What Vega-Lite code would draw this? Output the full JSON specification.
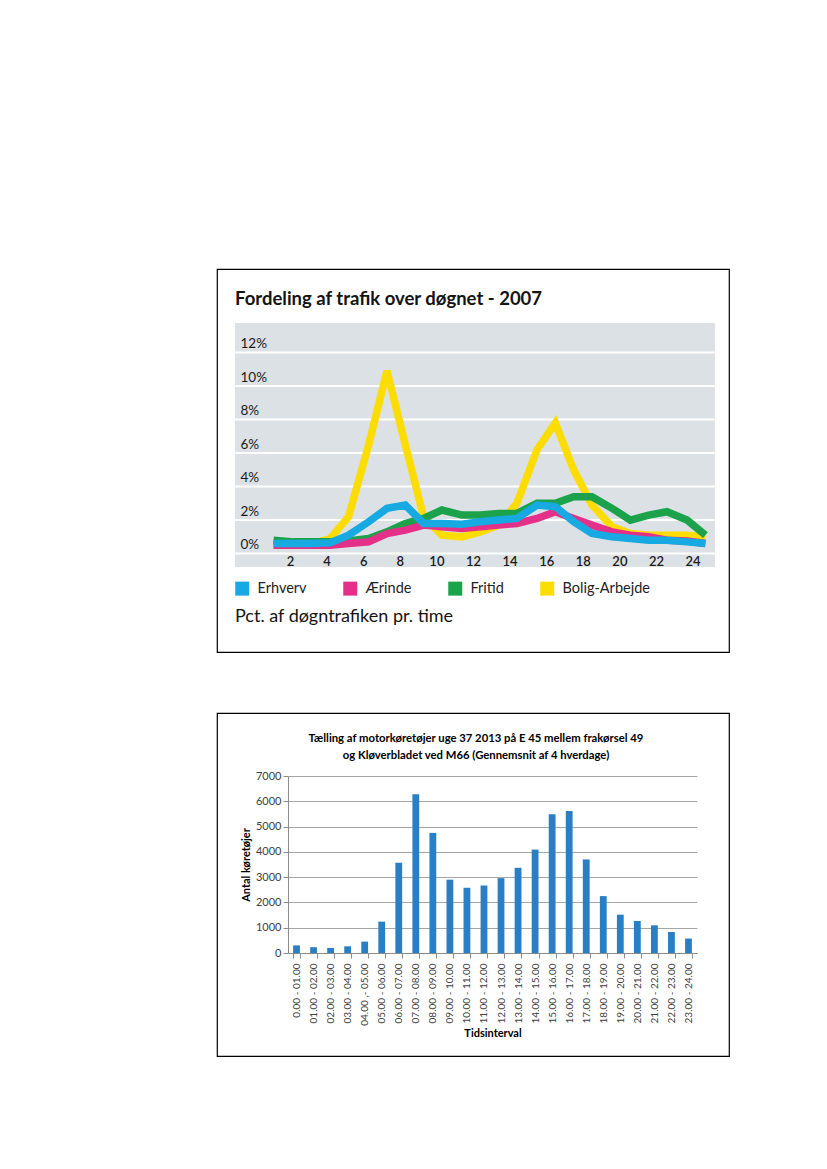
{
  "$schema": "https://vega.github.io/schema/vega-lite/v6.json",
  "padding": {"left": 211, "top": 268, "right": 0, "bottom": 0},
  "background": "white",
  "bounds": "flush",
  "spacing": 61,
  "config": {"font": "Lato", "view": {"stroke": null}},
  "vconcat": [
    {
      "width": 512,
      "height": 383,
      "view": {"stroke": "#000000", "strokeWidth": 1.2, "fill": "white"},
      "title": {"text": "Fordeling af trafik over døgnet - 2007", "anchor": "start", "frame": "group", "orient": "top", "offset": 0, "dx": 18, "dy": 54, "baseline": "alphabetic", "fontSize": 18.5, "fontWeight": "bold", "color": "#141414", "font": "Lato"},
      "layer": [
        {
          "data": {"values": [{"area": "plot"}]},
          "mark": {"type": "rect", "color": "#DCE1E5"},
          "encoding": {
            "x": {"datum": -1.005, "type": "quantitative", "scale": {"domain": [-1.99, 25.99], "nice": false, "zero": false},
                  "axis": {"values": [2,4,6,8,10,12,14,16,18,20,22,24], "zindex": 2, "title": null, "grid": false, "domain": false, "ticks": false, "tickSize": 0, "offset": -97, "labelPadding": 0, "labelBaseline": "top", "labelFlush": false, "labelFontSize": 13, "labelFontWeight": 600, "labelColor": "#1a1a1a", "labelFont": "Lato"}},
            "x2": {"datum": 25.22},
            "y": {"datum": -0.8, "type": "quantitative", "scale": {"domain": [-5.875, 16.99], "nice": false, "zero": false},
                  "axis": {"values": [0,2,4,6,8,10,12], "zindex": 2, "title": null, "grid": false, "domain": false, "ticks": false, "tickSize": 0, "labelAlign": "left", "labelPadding": -23, "labelBaseline": "alphabetic", "labelOffset": -5, "labelExpr": "datum.value + '%'", "labelFontSize": 13.5, "labelColor": "#1a1a1a", "labelFont": "Lato"}},
            "y2": {"datum": 13.77}
          }
        },
        {
          "data": {"values": [{"pct": 0}, {"pct": 2}, {"pct": 4}, {"pct": 6}, {"pct": 8}, {"pct": 10}, {"pct": 12}]},
          "mark": {"type": "rule", "color": "white", "strokeWidth": 2},
          "encoding": {
            "y": {"field": "pct", "type": "quantitative", "scale": {"domain": [-5.875, 16.99], "nice": false, "zero": false},
                  "axis": {"values": [0,2,4,6,8,10,12], "zindex": 2, "title": null, "grid": false, "domain": false, "ticks": false, "tickSize": 0, "labelAlign": "left", "labelPadding": -23, "labelBaseline": "alphabetic", "labelOffset": -5, "labelExpr": "datum.value + '%'", "labelFontSize": 13.5, "labelColor": "#1a1a1a", "labelFont": "Lato"}},
            "x": {"datum": -1.005, "type": "quantitative", "scale": {"domain": [-1.99, 25.99], "nice": false, "zero": false},
                  "axis": {"values": [2,4,6,8,10,12,14,16,18,20,22,24], "zindex": 2, "title": null, "grid": false, "domain": false, "ticks": false, "tickSize": 0, "offset": -97, "labelPadding": 0, "labelBaseline": "top", "labelFlush": false, "labelFontSize": 13, "labelFontWeight": 600, "labelColor": "#1a1a1a", "labelFont": "Lato"}},
            "x2": {"datum": 25.22}
          }
        },
        {
          "data": {"values": [
            {"h":1.1,"s":"Bolig-Arbejde","v":0.5},{"h":2.2,"s":"Bolig-Arbejde","v":0.5},{"h":3.2,"s":"Bolig-Arbejde","v":0.6},{"h":4.2,"s":"Bolig-Arbejde","v":0.9},{"h":5.2,"s":"Bolig-Arbejde","v":2.2},{"h":6.3,"s":"Bolig-Arbejde","v":6.5},{"h":7.3,"s":"Bolig-Arbejde","v":10.9},{"h":8.3,"s":"Bolig-Arbejde","v":6.5},{"h":9.3,"s":"Bolig-Arbejde","v":2.2},{"h":10.3,"s":"Bolig-Arbejde","v":1.1},{"h":11.4,"s":"Bolig-Arbejde","v":1.0},{"h":12.4,"s":"Bolig-Arbejde","v":1.3},{"h":13.4,"s":"Bolig-Arbejde","v":1.7},{"h":14.4,"s":"Bolig-Arbejde","v":3.0},{"h":15.5,"s":"Bolig-Arbejde","v":6.2},{"h":16.5,"s":"Bolig-Arbejde","v":7.8},{"h":17.5,"s":"Bolig-Arbejde","v":5.0},{"h":18.5,"s":"Bolig-Arbejde","v":2.9},{"h":19.6,"s":"Bolig-Arbejde","v":1.6},{"h":20.6,"s":"Bolig-Arbejde","v":1.2},{"h":21.6,"s":"Bolig-Arbejde","v":1.1},{"h":22.6,"s":"Bolig-Arbejde","v":1.1},{"h":23.7,"s":"Bolig-Arbejde","v":1.1},{"h":24.7,"s":"Bolig-Arbejde","v":1.0},
            {"h":1.1,"s":"Fritid","v":0.8},{"h":2.2,"s":"Fritid","v":0.7},{"h":3.2,"s":"Fritid","v":0.7},{"h":4.2,"s":"Fritid","v":0.7},{"h":5.2,"s":"Fritid","v":0.75},{"h":6.3,"s":"Fritid","v":0.9},{"h":7.3,"s":"Fritid","v":1.3},{"h":8.3,"s":"Fritid","v":1.8},{"h":9.3,"s":"Fritid","v":2.1},{"h":10.3,"s":"Fritid","v":2.6},{"h":11.4,"s":"Fritid","v":2.3},{"h":12.4,"s":"Fritid","v":2.3},{"h":13.4,"s":"Fritid","v":2.4},{"h":14.4,"s":"Fritid","v":2.4},{"h":15.5,"s":"Fritid","v":3.0},{"h":16.5,"s":"Fritid","v":3.0},{"h":17.5,"s":"Fritid","v":3.4},{"h":18.5,"s":"Fritid","v":3.4},{"h":19.6,"s":"Fritid","v":2.7},{"h":20.6,"s":"Fritid","v":2.0},{"h":21.6,"s":"Fritid","v":2.3},{"h":22.6,"s":"Fritid","v":2.5},{"h":23.7,"s":"Fritid","v":2.0},{"h":24.7,"s":"Fritid","v":1.1},
            {"h":1.1,"s":"Ærinde","v":0.5},{"h":2.2,"s":"Ærinde","v":0.5},{"h":3.2,"s":"Ærinde","v":0.5},{"h":4.2,"s":"Ærinde","v":0.5},{"h":5.2,"s":"Ærinde","v":0.6},{"h":6.3,"s":"Ærinde","v":0.7},{"h":7.3,"s":"Ærinde","v":1.2},{"h":8.3,"s":"Ærinde","v":1.4},{"h":9.3,"s":"Ærinde","v":1.7},{"h":10.3,"s":"Ærinde","v":1.6},{"h":11.4,"s":"Ærinde","v":1.5},{"h":12.4,"s":"Ærinde","v":1.6},{"h":13.4,"s":"Ærinde","v":1.7},{"h":14.4,"s":"Ærinde","v":1.8},{"h":15.5,"s":"Ærinde","v":2.1},{"h":16.5,"s":"Ærinde","v":2.5},{"h":17.5,"s":"Ærinde","v":2.1},{"h":18.5,"s":"Ærinde","v":1.7},{"h":19.6,"s":"Ærinde","v":1.3},{"h":20.6,"s":"Ærinde","v":1.1},{"h":21.6,"s":"Ærinde","v":1.0},{"h":22.6,"s":"Ærinde","v":0.8},{"h":23.7,"s":"Ærinde","v":0.75},{"h":24.7,"s":"Ærinde","v":0.6},
            {"h":1.1,"s":"Erhverv","v":0.6},{"h":2.2,"s":"Erhverv","v":0.6},{"h":3.2,"s":"Erhverv","v":0.6},{"h":4.2,"s":"Erhverv","v":0.65},{"h":5.2,"s":"Erhverv","v":1.1},{"h":6.3,"s":"Erhverv","v":1.9},{"h":7.3,"s":"Erhverv","v":2.7},{"h":8.3,"s":"Erhverv","v":2.9},{"h":9.3,"s":"Erhverv","v":1.8},{"h":10.3,"s":"Erhverv","v":1.8},{"h":11.4,"s":"Erhverv","v":1.75},{"h":12.4,"s":"Erhverv","v":1.9},{"h":13.4,"s":"Erhverv","v":2.0},{"h":14.4,"s":"Erhverv","v":2.1},{"h":15.5,"s":"Erhverv","v":2.9},{"h":16.5,"s":"Erhverv","v":2.8},{"h":17.5,"s":"Erhverv","v":1.9},{"h":18.5,"s":"Erhverv","v":1.2},{"h":19.6,"s":"Erhverv","v":1.0},{"h":20.6,"s":"Erhverv","v":0.9},{"h":21.6,"s":"Erhverv","v":0.8},{"h":22.6,"s":"Erhverv","v":0.8},{"h":23.7,"s":"Erhverv","v":0.7},{"h":24.7,"s":"Erhverv","v":0.6}
          ]},
          "mark": {"type": "line", "strokeWidth": 7.5},
          "encoding": {
            "x": {"field": "h", "type": "quantitative", "scale": {"domain": [-1.99, 25.99], "nice": false, "zero": false},
                  "axis": {"values": [2,4,6,8,10,12,14,16,18,20,22,24], "zindex": 2, "title": null, "grid": false, "domain": false, "ticks": false, "tickSize": 0, "offset": -97, "labelPadding": 0, "labelBaseline": "top", "labelFlush": false, "labelFontSize": 13, "labelFontWeight": 600, "labelColor": "#1a1a1a", "labelFont": "Lato"}},
            "y": {"field": "v", "type": "quantitative", "scale": {"domain": [-5.875, 16.99], "nice": false, "zero": false},
                  "axis": {"values": [0,2,4,6,8,10,12], "zindex": 2, "title": null, "grid": false, "domain": false, "ticks": false, "tickSize": 0, "labelAlign": "left", "labelPadding": -23, "labelBaseline": "alphabetic", "labelOffset": -5, "labelExpr": "datum.value + '%'", "labelFontSize": 13.5, "labelColor": "#1a1a1a", "labelFont": "Lato"}},
            "color": {"field": "s", "type": "nominal",
                      "scale": {"domain": ["Erhverv", "Ærinde", "Fritid", "Bolig-Arbejde"], "range": ["#17A9E1", "#E5308A", "#1CA24A", "#FDDC00"]},
                      "legend": {"orient": "none", "legendX": 18, "legendY": 312, "direction": "horizontal", "title": "Pct. af døgntrafiken pr. time", "titleOrient": "bottom", "titleAnchor": "start", "titleFontSize": 18, "titleFontWeight": "normal", "titleColor": "#141414", "titleFont": "Lato", "titlePadding": 12, "titleLimit": 400, "symbolType": "square", "symbolSize": 196, "symbolStrokeWidth": 0, "symbolOpacity": 1, "labelFontSize": 14.5, "labelColor": "#222222", "labelFont": "Lato", "labelOffset": 8, "columnPadding": 36,
                                 "encode": {"symbols": {"update": {"fill": {"scale": "color", "field": "value"}, "strokeWidth": {"value": 0}, "opacity": {"value": 1}}}}}}
          }
        }
      ]
    },
    {
      "width": 512,
      "height": 343,
      "view": {"stroke": "#000000", "strokeWidth": 1.2, "fill": "white"},
      "title": {"text": ["Tælling af motorkøretøjer uge 37 2013 på E 45 mellem frakørsel 49", "og Kløverbladet ved M66 (Gennemsnit af 4 hverdage)"], "anchor": "middle", "frame": "group", "orient": "top", "offset": 0, "dx": 3, "dy": 57, "baseline": "alphabetic", "fontSize": 11.3, "fontWeight": "bold", "lineHeight": 17, "color": "#000000", "font": "Lato"},
      "data": {"values": [
        {"interval": "0.00 - 01.00", "count": 300},
        {"interval": "01.00 - 02.00", "count": 230},
        {"interval": "02.00 - 03.00", "count": 200},
        {"interval": "03.00 - 04.00", "count": 265},
        {"interval": "04.00 ,- 05.00", "count": 450},
        {"interval": "05.00 - 06.00", "count": 1240},
        {"interval": "06.00 - 07.00", "count": 3570},
        {"interval": "07.00 - 08.00", "count": 6280},
        {"interval": "08.00 - 09.00", "count": 4750},
        {"interval": "09.00 - 10.00", "count": 2900},
        {"interval": "10.00 - 11.00", "count": 2580},
        {"interval": "11.00 - 12.00", "count": 2670},
        {"interval": "12.00 - 13.00", "count": 2960},
        {"interval": "13.00 - 14.00", "count": 3370},
        {"interval": "14.00 - 15.00", "count": 4090},
        {"interval": "15.00 - 16.00", "count": 5490},
        {"interval": "16.00 - 17.00", "count": 5620},
        {"interval": "17.00 - 18.00", "count": 3700},
        {"interval": "18.00 - 19.00", "count": 2250},
        {"interval": "19.00 - 20.00", "count": 1515},
        {"interval": "20.00 - 21.00", "count": 1265},
        {"interval": "21.00 - 22.00", "count": 1095},
        {"interval": "22.00 - 23.00", "count": 830},
        {"interval": "23.00 - 24.00", "count": 570}
      ]},
      "mark": {"type": "bar", "color": "#2A7FC4"},
      "encoding": {
        "x": {"field": "interval", "type": "nominal", "sort": null,
              "scale": {"range": [71, 480], "paddingInner": 0.6, "paddingOuter": 0.3},
              "axis": {"offset": -103, "tickBand": "extent", "tickSize": 5, "tickColor": "#8C8C8C", "domainColor": "#8C8C8C", "labelAngle": -90, "labelFontSize": 10, "labelColor": "#404040", "labelPadding": 5, "labelFont": "Lato", "title": "Tidsinterval", "titleFontSize": 11, "titleFontWeight": "bold", "titleColor": "#000000", "titleFont": "Lato", "titlePadding": 2, "grid": false}},
        "y": {"field": "count", "type": "quantitative",
              "scale": {"domain": [0, 7000], "range": [240, 63], "nice": false},
              "axis": {"offset": -71, "values": [0,1000,2000,3000,4000,5000,6000,7000], "format": "d", "grid": true, "gridColor": "#A6A6A6", "gridWidth": 1, "domainColor": "#8C8C8C", "tickColor": "#8C8C8C", "tickSize": 5, "labelFontSize": 11, "labelColor": "#404040", "labelPadding": 2, "labelFont": "Lato", "title": "Antal køretøjer", "titleFontSize": 11, "titleFontWeight": "bold", "titleColor": "#000000", "titleFont": "Lato", "titlePadding": 4}}
      }
    }
  ]
}
